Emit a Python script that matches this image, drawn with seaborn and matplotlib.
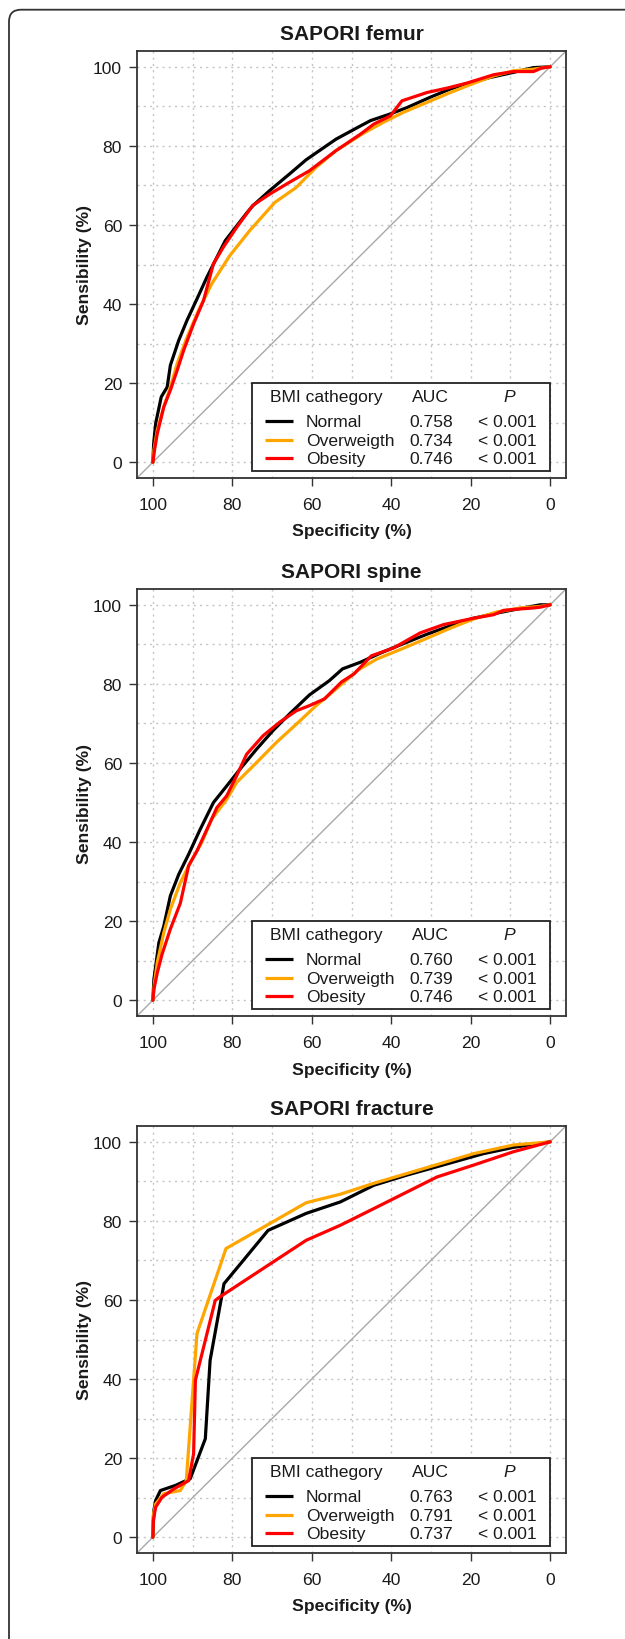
import matplotlib
matplotlib.use("Agg")
import matplotlib.pyplot as plt
from matplotlib.patches import FancyBboxPatch, Rectangle
import seaborn as sns
import pandas as pd

# ---- data ----
groups = ["Normal", "Overweigth", "Obesity"]
colors = ["black", "#FFA500", "#FF0000"]
titles = ["SAPORI femur", "SAPORI spine", "SAPORI fracture"]

femur_auc = ["0.758", "0.734", "0.746"]
spine_auc = ["0.760", "0.739", "0.746"]
fracture_auc = ["0.763", "0.791", "0.737"]
p_values = ["< 0.001", "< 0.001", "< 0.001"]

femur_normal_spec = [100, 99.8, 99.3, 97.9, 96.4, 95.6, 93.5, 91.4, 88.9, 86.4, 84.3, 81.8, 79.8, 76.4, 74.8,
                     70.6, 65.6, 61.4, 53.9, 48.2, 45.2, 40.2, 36.0, 30.2, 25.1, 20.1, 15.1, 9.2, 4.2, 0]
femur_normal_sens = [0, 4.7, 9.8, 16.5, 19, 24.5, 30.8, 35.9, 41.3, 46.8, 51, 56, 58.6, 63, 64.9,
                     68.7, 72.9, 76.5, 81.7, 84.8, 86.4, 88.1, 89.7, 92.3, 94.4, 96, 97.3, 98.6, 99.8, 100]
femur_over_spec = [100, 99.75, 98.9, 97.25, 95.6, 93.9, 91.4, 88.5, 85.2, 80.6, 75.6, 69.3, 63.9, 58.9, 53.9,
                   47.0, 41.9, 36.9, 31.0, 25.1, 19.3, 14.2, 9.2, 4.2, 0]
femur_over_sens = [0, 3, 8.1, 14, 19, 24.9, 31.6, 38.4, 45.1, 52.3, 58.6, 65.7, 69.5, 74.6, 78.8,
                   83.2, 86, 88.5, 91, 93.5, 95.8, 97.7, 99, 99.4, 100]
femur_obese_spec = [100, 99.6, 98.9, 97.25, 95.6, 93.9, 92.25, 89.75, 87.25, 84.75, 82.25, 78.9, 74.9, 70.6, 65.6,
                    60.6, 53.9, 47.7, 44.4, 40.2, 37.3, 31.0, 26.0, 20.9, 14.2, 9.2, 4.2, 2.1, 0]
femur_obese_sens = [0, 3, 7.2, 14, 18.2, 23.2, 28.3, 35, 40.9, 50.2, 54.4, 59.4, 64.9, 67.8, 70.8,
                    73.7, 78.8, 83, 85.5, 87.6, 91.4, 93.5, 94.6, 95.9, 98, 98.8, 98.8, 99.7, 100]

spine_normal_spec = [100, 99.75, 99.3, 98.5, 97.25, 95.6, 93.5, 91.0, 88.1, 84.75, 81.4, 78.1, 73.9, 69.75,
                     65.6, 60.6, 55.6, 52.25, 47.7, 42.7, 36.9, 30.9, 25.1, 19.3, 13.4, 8.4, 2.5, 0]
spine_normal_sens = [0, 5.2, 8.6, 14.5, 18.75, 26.4, 31.8, 36.9, 43.2, 50, 54.2, 58.4, 63.5, 68.2,
                     72.4, 77.2, 80.8, 83.8, 85.5, 87.8, 90.2, 92.6, 94.7, 96.6, 97.9, 98.9, 100, 100]
spine_over_spec = [100, 99.6, 98.9, 97.25, 95.6, 93.1, 90.6, 87.7, 85.2, 81.4, 78.9, 73.9, 68.9, 63.9,
                   58.9, 53.9, 48.2, 43.6, 37.7, 31.8, 25.1, 19.3, 13.4, 7.5, 2.5, 0]
spine_over_sens = [0, 4.4, 9.5, 17.1, 23, 29.7, 34.8, 39.9, 45.8, 50.8, 55.1, 60.1, 65.2, 69.8,
                   74.5, 78.7, 83.6, 86.3, 88.7, 91.2, 94.1, 96.4, 98.2, 99.2, 99.6, 100]
spine_obese_spec = [100, 99.75, 98.9, 97.7, 95.6, 93.1, 91.0, 88.9, 85.2, 83.9, 81.4, 78.9, 76.4, 72.25,
                    68.1, 63.9, 60.6, 56.8, 52.5, 49.4, 45.0, 39.4, 32.7, 26.8, 19.3, 14.2, 11.7, 8.4, 4.2, 2.5, 0]
spine_obese_sens = [0, 2.7, 6.9, 11.6, 18, 24.5, 34, 37.75, 45.8, 48.7, 51.7, 56.8, 62.2, 66.9,
                    70.3, 73.2, 74.5, 76.2, 80.5, 82.5, 87.1, 89.1, 92.9, 95, 96.6, 97.5, 98.6, 98.9, 99.2, 99.4, 100]

fracture_normal_spec = [100, 99.75, 99.3, 98.1, 94.3, 90.6, 86.8, 85.6, 82.1, 71.0, 61.4, 52.8, 44.4, 36.0,
                        28.5, 16.8, 9.2, 0]
fracture_normal_sens = [0, 6.75, 9.3, 11.8, 13.1, 14.8, 24.9, 44.7, 64.1, 77.6, 81.9, 84.8, 89, 91.6,
                        93.7, 97, 98.6, 100]
fracture_over_spec = [100, 100, 99.3, 97.25, 93.1, 91.6, 88.9, 81.6, 61.4, 52.8, 44.4, 36.0, 27.6, 19.3, 9.2, 0]
fracture_over_sens = [0, 5.1, 8.4, 11, 11.8, 14.3, 51.5, 73, 84.6, 86.75, 89.5, 92, 94.5, 97, 99.2, 100]
fracture_obese_spec = [100, 99.9, 99.3, 97.7, 94.75, 91.0, 89.75, 89.3, 84.3, 83.1, 61.4, 52.8, 44.4, 28.5,
                       19.3, 9.2, 0]
fracture_obese_sens = [0, 4.2, 7.6, 10.1, 12.2, 14.3, 21.1, 39.7, 59.9, 60.8, 75.1, 78.9, 83.1, 91.1,
                       94.1, 97.5, 100]


def make_df(specs, senss):
    frames = []
    for g, sp, se in zip(groups, specs, senss):
        frames.append(pd.DataFrame({"spec": sp, "sens": se, "group": g}))
    return pd.concat(frames, ignore_index=True)


panels = [
    (make_df([femur_normal_spec, femur_over_spec, femur_obese_spec],
             [femur_normal_sens, femur_over_sens, femur_obese_sens]), femur_auc),
    (make_df([spine_normal_spec, spine_over_spec, spine_obese_spec],
             [spine_normal_sens, spine_over_sens, spine_obese_sens]), spine_auc),
    (make_df([fracture_normal_spec, fracture_over_spec, fracture_obese_spec],
             [fracture_normal_sens, fracture_over_sens, fracture_obese_sens]), fracture_auc),
]

sns.set_style("white")
plt.rcParams["font.family"] = ["Liberation Sans", "DejaVu Sans"]
TXT = "#1a1a1a"

W, H = 625, 1640
fig = plt.figure(figsize=(W / 100, H / 100), dpi=100)

# outer rounded frame (only top/left edges fall inside the canvas)
frame = FancyBboxPatch((0.09, -0.5), 7.0, 16.793, boxstyle="round,pad=0,rounding_size=0.12",
                       transform=fig.dpi_scale_trans, fill=False, ec="#333333", lw=1.3)
fig.add_artist(frame)

ax_left, ax_w, ax_h = 137 / W, 429 / W, 427 / H
box_bottoms = [479, 1017, 1554]

for i, (df, auc) in enumerate(panels):
    ax = fig.add_axes([ax_left, 1 - box_bottoms[i] / H, ax_w, ax_h])
    ax.set_xlim(104, -4)
    ax.set_ylim(-4, 104)

    ax.set_xticks(range(0, 101, 20))
    ax.set_yticks(range(0, 101, 20))
    ax.set_xticks(range(0, 101, 10), minor=True)
    ax.set_yticks(range(0, 101, 10), minor=True)
    ax.grid(which="both", ls=(0, (1.5, 3)), color="#c4c4c4", lw=1)
    ax.set_axisbelow(True)
    ax.tick_params(which="minor", length=0)
    ax.tick_params(which="major", direction="out", length=5.8, width=1, color="#333333",
                   labelsize=12.6, labelcolor=TXT, bottom=True, left=True)
    ax.tick_params(axis="x", pad=8)
    ax.tick_params(axis="y", pad=5)
    for s in ax.spines.values():
        s.set_color("#333333")
        s.set_linewidth(1.3)

    ax.axline((100, 0), (0, 100), color="#a8a8a8", lw=1, zorder=1)

    sns.lineplot(data=df, x="spec", y="sens", hue="group", hue_order=groups,
                 palette=dict(zip(groups, colors)), sort=False, estimator=None,
                 lw=2.3, legend=False, ax=ax, zorder=3)

    ax.set_xlabel("Specificity (%)", fontsize=12.6, fontweight="bold", color=TXT, va="center")
    ax.set_ylabel("Sensibility (%)", fontsize=12.6, fontweight="bold", color=TXT, va="center")
    ax.xaxis.set_label_coords(0.5, -53 / 427)
    ax.yaxis.set_label_coords(-52 / 429, 0.5)
    ax.text(0.5, 1 + 17 / 427, titles[i], transform=ax.transAxes, ha="center", va="center",
            fontsize=15, fontweight="bold", color=TXT)

    # table-style legend
    ax.add_patch(Rectangle((0, -2.3), 75, 22.3, fc="white", ec="#222222", lw=1.3, zorder=5))
    ax.text(70.5, 16.5, "BMI cathegory", fontsize=12.6, color=TXT, ha="left", va="center", zorder=6)
    ax.text(30.2, 16.5, "AUC", fontsize=12.6, color=TXT, ha="center", va="center", zorder=6)
    ax.text(10.3, 16.5, "P", fontsize=12.6, color=TXT, ha="center", va="center", style="italic", zorder=6)
    for g, c, a, p, yy in zip(groups, colors, auc, p_values, [10.4, 5.6, 1.0]):
        ax.plot([71.8, 64.7], [yy, yy], color=c, lw=2.3, zorder=6, solid_capstyle="butt")
        ax.text(61.5, yy, g, fontsize=12.6, color=TXT, ha="left", va="center", zorder=6)
        ax.text(30.0, yy, a, fontsize=12.6, color=TXT, ha="center", va="center", zorder=6)
        ax.text(10.9, yy, p, fontsize=12.6, color=TXT, ha="center", va="center", zorder=6)

fig.savefig("out.png", dpi=100)
